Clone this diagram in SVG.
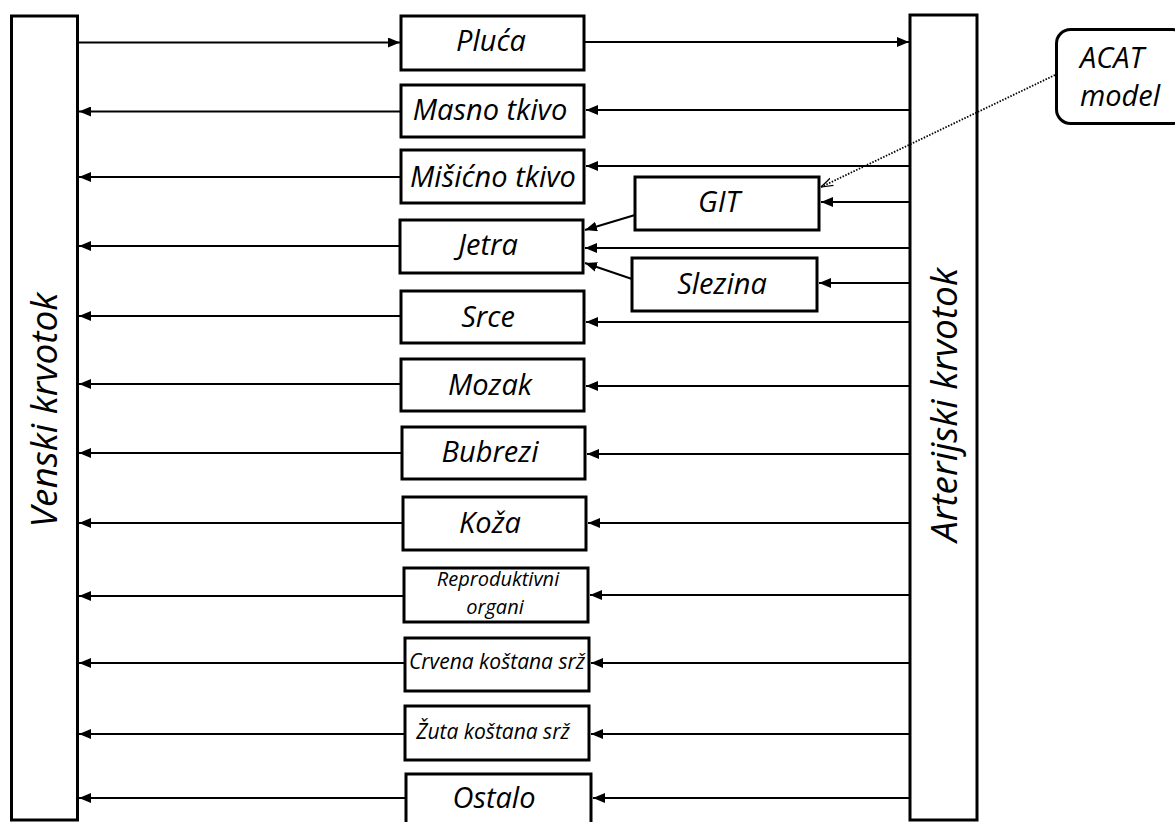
<svg xmlns="http://www.w3.org/2000/svg" width="1175" height="822" viewBox="0 0 1175 822">
<style>
.box{fill:#fff;stroke:#000;stroke-width:3}
.c{stroke:#000;stroke-width:2;fill:none}
.t{font-family:"Open Sans","Noto Sans",sans-serif;font-style:italic;fill:#000;text-anchor:middle}
.L{font-size:29px}
.S{font-size:21px}
.R{font-size:20px}
</style>
<defs>
<marker id="a" viewBox="0 0 12 10" refX="12" refY="5" markerWidth="12" markerHeight="10" markerUnits="userSpaceOnUse" orient="auto">
<path d="M0,0 L12,5 L0,10 Z" fill="#000"/>
</marker>
<marker id="d" viewBox="0 0 12 10" refX="12" refY="5" markerWidth="12" markerHeight="10" markerUnits="userSpaceOnUse" orient="auto">
<path d="M0,1 L12,5 L0,9" fill="none" stroke="#000" stroke-width="1.2"/>
</marker>
</defs>
<rect width="1175" height="822" fill="#fff"/>
<g id="venski"><rect class="box" x="11.5" y="16" width="66" height="804"/>
<text class="t" font-size="37" transform="translate(57,410) rotate(-90)">Venski krvotok</text></g>
<g id="arterijski"><rect class="box" x="910" y="15" width="67" height="805"/>
<text class="t" font-size="37" transform="translate(957,405) rotate(-90)">Arterijski krvotok</text></g>
<g id="acat"><rect class="box" x="1056.5" y="29.5" width="130" height="94" rx="14"/>
<text class="t" font-size="29" x="1080" y="68" style="text-anchor:start">ACAT</text>
<text class="t" font-size="29" x="1080" y="106" style="text-anchor:start">model</text></g>
<g id="pluca"><rect class="box" x="401" y="16" width="183" height="54"/><text class="t L" x="491" y="51">Pluća</text></g>
<g id="masno"><rect class="box" x="401" y="85" width="183" height="52"/><text class="t L" x="490" y="120">Masno tkivo</text></g>
<g id="misicno"><rect class="box" x="401" y="150" width="183" height="53"/><text class="t L" x="493" y="187">Mišićno tkivo</text></g>
<g id="git"><rect class="box" x="635" y="177" width="184" height="53"/><text class="t L" x="719" y="212">GIT</text></g>
<g id="jetra"><rect class="box" x="400" y="220" width="183" height="53"/><text class="t L" x="488" y="255">Jetra</text></g>
<g id="slezina"><rect class="box" x="632" y="258" width="185" height="53"/><text class="t L" x="722" y="294">Slezina</text></g>
<g id="srce"><rect class="box" x="401" y="291" width="183" height="52"/><text class="t L" x="488" y="327">Srce</text></g>
<g id="mozak"><rect class="box" x="401" y="359" width="183" height="52"/><text class="t L" x="490" y="395">Mozak</text></g>
<g id="bubrezi"><rect class="box" x="402" y="427" width="183" height="52"/><text class="t L" x="490" y="462">Bubrezi</text></g>
<g id="koza"><rect class="box" x="403" y="497" width="183" height="53"/><text class="t L" x="490" y="533">Koža</text></g>
<g id="repro"><rect class="box" x="404" y="568" width="184" height="54"/><text class="t R" x="498" y="586">Reproduktivni</text><text class="t R" x="495" y="614">organi</text></g>
<g id="crvena"><rect class="box" x="405" y="638" width="184" height="53"/><text class="t S" x="497" y="669">Crvena koštana srž</text></g>
<g id="zuta"><rect class="box" x="405" y="706" width="184" height="54"/><text class="t S" x="493" y="739">Žuta koštana srž</text></g>
<g id="ostalo"><rect class="box" x="406" y="774" width="185" height="60"/><text class="t L" x="494" y="808">Ostalo</text></g>
<g id="connectors">
<line class="c" x1="79" y1="42.5" x2="400" y2="42.5" marker-end="url(#a)"/>
<line class="c" x1="585" y1="42" x2="909" y2="42" marker-end="url(#a)"/>
<line class="c" x1="909" y1="110" x2="586" y2="110" marker-end="url(#a)"/>
<line class="c" x1="400" y1="111.5" x2="79" y2="111.5" marker-end="url(#a)"/>
<line class="c" x1="909" y1="166" x2="586" y2="166" marker-end="url(#a)"/>
<line class="c" x1="400" y1="177" x2="79" y2="177" marker-end="url(#a)"/>
<line class="c" x1="909" y1="202" x2="821" y2="202" marker-end="url(#a)"/>
<line class="c" x1="635" y1="215" x2="585" y2="230" marker-end="url(#a)"/>
<line class="c" x1="909" y1="248" x2="585" y2="248" marker-end="url(#a)"/>
<line class="c" x1="632" y1="279" x2="585" y2="263" marker-end="url(#a)"/>
<line class="c" x1="399" y1="246" x2="79" y2="246" marker-end="url(#a)"/>
<line class="c" x1="909" y1="283" x2="819" y2="283" marker-end="url(#a)"/>
<line class="c" x1="909" y1="322" x2="586" y2="322" marker-end="url(#a)"/>
<line class="c" x1="400" y1="316" x2="79" y2="316" marker-end="url(#a)"/>
<line class="c" x1="909" y1="386" x2="586" y2="386" marker-end="url(#a)"/>
<line class="c" x1="400" y1="384" x2="79" y2="384" marker-end="url(#a)"/>
<line class="c" x1="909" y1="454" x2="587" y2="454" marker-end="url(#a)"/>
<line class="c" x1="401" y1="453" x2="79" y2="453" marker-end="url(#a)"/>
<line class="c" x1="909" y1="523" x2="588" y2="523" marker-end="url(#a)"/>
<line class="c" x1="402" y1="523" x2="79" y2="523" marker-end="url(#a)"/>
<line class="c" x1="909" y1="595" x2="590" y2="595" marker-end="url(#a)"/>
<line class="c" x1="403" y1="596" x2="79" y2="596" marker-end="url(#a)"/>
<line class="c" x1="909" y1="663" x2="591" y2="663" marker-end="url(#a)"/>
<line class="c" x1="404" y1="663" x2="79" y2="663" marker-end="url(#a)"/>
<line class="c" x1="909" y1="734" x2="591" y2="734" marker-end="url(#a)"/>
<line class="c" x1="404" y1="734" x2="79" y2="734" marker-end="url(#a)"/>
<line class="c" x1="909" y1="798" x2="593" y2="798" marker-end="url(#a)"/>
<line class="c" x1="405" y1="798" x2="79" y2="798" marker-end="url(#a)"/>
<line x1="1055" y1="75" x2="821" y2="187" stroke="#000" stroke-width="1.8" stroke-dasharray="1.5,1.5" marker-end="url(#d)"/>
</g>
</svg>
